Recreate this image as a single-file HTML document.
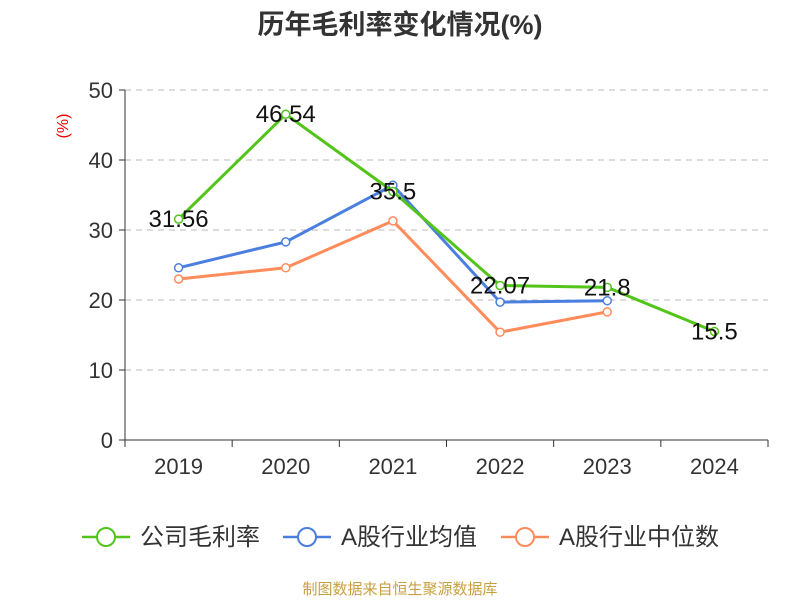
<!DOCTYPE html>
<html><head><meta charset="utf-8"><style>
body{margin:0;background:#fff;}
svg{display:block;font-family:"Liberation Sans","Noto Sans CJK SC",sans-serif;}
</style></head><body>
<svg id="chart" width="800" height="600">
<text x="400" y="34" text-anchor="middle" font-size="27" font-weight="bold" fill="#333">历年毛利率变化情况(%)</text>
<text x="68" y="126" text-anchor="middle" font-size="16" fill="#e00" transform="rotate(-90 68 126)">(%)</text>
<g id="grid"></g><g id="axes"></g><g id="series"></g>
<g>
<g><line x1="82" y1="537" x2="130" y2="537" stroke="#52c41a" stroke-width="2.5"/><circle cx="106" cy="537" r="9" fill="#fff" stroke="#52c41a" stroke-width="2"/><text x="140" y="545" font-size="24" fill="#333">公司毛利率</text></g>
<g><line x1="283" y1="537" x2="331" y2="537" stroke="#4a7fe0" stroke-width="2.5"/><circle cx="307" cy="537" r="9" fill="#fff" stroke="#4a7fe0" stroke-width="2"/><text x="341" y="545" font-size="24" fill="#333">A股行业均值</text></g>
<g><line x1="501" y1="537" x2="549" y2="537" stroke="#ff8c5a" stroke-width="2.5"/><circle cx="525" cy="537" r="9" fill="#fff" stroke="#ff8c5a" stroke-width="2"/><text x="559" y="545" font-size="24" fill="#333">A股行业中位数</text></g>
</g>
<text x="400" y="594" text-anchor="middle" font-size="15" fill="#c8a040">制图数据来自恒生聚源数据库</text>
</svg>
<script>
const categories=["2019","2020","2021","2022","2023","2024"];
const company=[31.56,46.54,35.5,22.07,21.8,15.5];
const industryAvg=[24.6,28.3,36.4,19.7,19.9,null];
const industryMedian=[23.0,24.6,31.3,15.4,18.3,null];
const yTicks=[0,10,20,30,40,50];
const NS="http://www.w3.org/2000/svg";
const x0=125,x1=768,yb=440,yt=90;
const bw=(x1-x0)/categories.length;
const X=i=>x0+bw*(i+0.5);
const Y=v=>yb-(v/50)*(yb-yt);
function mk(tag,attrs,parent,txt){const e=document.createElementNS(NS,tag);for(const k in attrs)e.setAttribute(k,attrs[k]);if(txt!=null)e.textContent=txt;document.getElementById(parent).appendChild(e);return e;}
yTicks.forEach(t=>{
 if(t>0){const g=mk('line',{x1:x0,x2:x1,y1:Y(t),y2:Y(t),stroke:'#bbb','stroke-dasharray':'6,5'},'grid');
 
 }
 const tk=mk('line',{x1:x0-6,x2:x0,y1:Y(t),y2:Y(t),stroke:'#333'},'axes');
 
 
 const l=mk('text',{x:x0-12,y:Y(t)+8,'text-anchor':'end','font-size':22,fill:'#333'},'axes',t);
 
 
});
const ya=mk('line',{x1:x0,x2:x0,y1:yt,y2:yb,stroke:'#333'},'axes');


const xa=mk('line',{x1:x0,x2:x1,y1:yb,y2:yb,stroke:'#333'},'axes');


for(let i=0;i<=categories.length;i++){const t=mk('line',{x1:x0+bw*i,x2:x0+bw*i,y1:yb,y2:yb+7,stroke:'#333'},'axes');
 
 }
categories.forEach((c,i)=>{const l=mk('text',{x:X(i),y:yb+34,'text-anchor':'middle','font-size':22,fill:'#333'},'axes',c);
 
 });
function drawSeries(data,color,name,labels){
 const pts=data.map((v,i)=>v==null?null:[X(i),Y(v)]).filter(p=>p);
 const p=mk('polyline',{points:pts.map(p=>p.join(',')).join(' '),fill:'none',stroke:color,'stroke-width':3},'series');
 
 
 data.forEach((v,i)=>{if(v==null)return;
  const c=mk('circle',{cx:X(i),cy:Y(v),r:4,fill:'#fff',stroke:color,'stroke-width':1.5},'series');
  
  
  if(labels){const t=mk('text',{x:X(i),y:Y(v)+8,'text-anchor':'middle','font-size':24,fill:'#111'},'series',v);
   
   }
 });
}
drawSeries(industryMedian,'#ff8c5a','industry-median',false);
drawSeries(industryAvg,'#4a7fe0','industry-avg',false);
drawSeries(company,'#52c41a','company',true);
</script>
</body></html>
